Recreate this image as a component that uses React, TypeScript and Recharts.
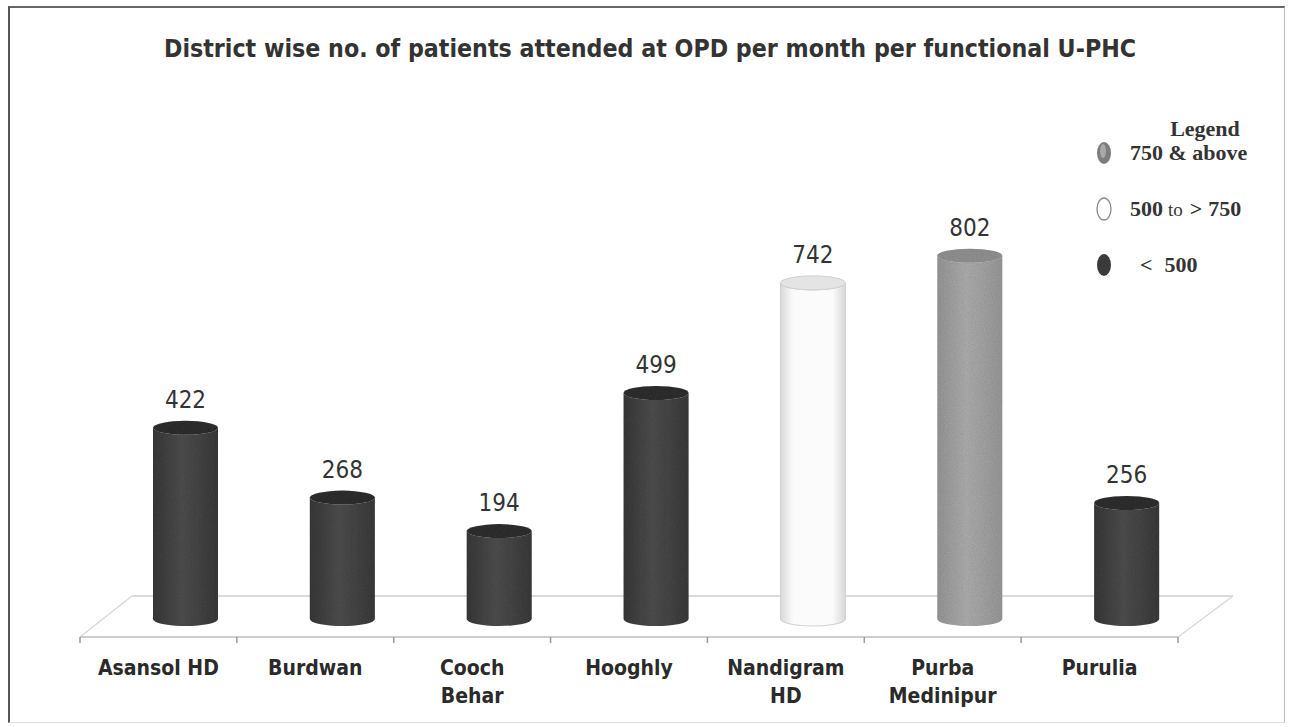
import React from 'react';
import { BarChart, Bar, XAxis, YAxis, ReferenceLine, LabelList, Legend } from 'recharts';

const categories = ['Asansol HD', 'Burdwan', 'Cooch Behar', 'Hooghly', 'Nandigram HD', 'Purba Medinipur', 'Purulia'];
const tickLines = [['Asansol HD'], ['Burdwan'], ['Cooch', 'Behar'], ['Hooghly'], ['Nandigram', 'HD'], ['Purba', 'Medinipur'], ['Purulia']];
const values = [422, 268, 194, 499, 742, 802, 256];
const yDomain = [0, 1000];
const title = 'District wise no. of patients attended at OPD per month per functional U-PHC';
const legendTitle = 'Legend';
const legendItems = [
  { tier: 'high', parts: [{ t: '750 & above', b: true, dx: 0 }] },
  { tier: 'mid', parts: [{ t: '500', b: true, dx: 0 }, { t: 'to', b: false, dx: 5 }, { t: '>', b: true, dx: 7 }, { t: '750', b: true, dx: 6 }] },
  { tier: 'low', parts: [{ t: '<', b: true, dx: 10 }, { t: '500', b: true, dx: 12 }] },
];
const thresholds = { high: 750, mid: 500 };

const data = categories.map((name, i) => ({ name, value: values[i] }));

const tierOf = (v: number) => (v >= thresholds.high ? 'high' : v >= thresholds.mid ? 'mid' : 'low');

const STYLE: Record<string, { side: string; top: string; stroke: string; filter?: string }> = {
  high: { side: 'url(#gHigh)', top: '#959595', stroke: 'none', filter: 'url(#grain)' },
  mid: { side: 'url(#gMid)', top: '#e4e4e4', stroke: '#d0d0d0' },
  low: { side: 'url(#gLow)', top: '#333', stroke: 'none', filter: 'url(#grain)' },
};

const SANS = "'DejaVu Sans Condensed', 'DejaVu Sans', sans-serif";
const SERIF = "'Liberation Serif', 'DejaVu Serif', serif";
const FRONT_SHIFT = -27;

const Cylinder = (props: any) => {
  const { x, y, width, height, payload } = props;
  if (width == null || height == null) return null;
  const rx = width / 2;
  const ry = 7;
  const s = STYLE[tierOf(payload.value)];
  const d = `M ${x} ${y} L ${x} ${y + height} A ${rx} ${ry} 0 0 0 ${x + width} ${y + height} L ${x + width} ${y} A ${rx} ${ry} 0 0 1 ${x} ${y} Z`;
  return (
    <g filter={s.filter}>
      <path d={d} fill={s.side} stroke={s.stroke} strokeWidth={1} />
      <ellipse cx={x + rx} cy={y} rx={rx} ry={ry} fill={s.top} stroke={s.stroke} strokeWidth={1} />
    </g>
  );
};

const Floor = (props: any) => {
  const { x1, x2, y1 } = props;
  if (x1 == null) return null;
  const back = y1 - 23;
  const front = y1 + 18;
  const bl = x1 + 25;
  const br = x2 + 28;
  const fl = x1 + FRONT_SHIFT;
  const fr = x2 + FRONT_SHIFT;
  const n = categories.length;
  const step = (fr - fl) / n;
  const ticks = Array.from({ length: n + 1 }, (_, i) => fl + i * step);
  return (
    <g>
      <line x1={bl} y1={back} x2={br} y2={back} stroke="#cfcfcf" strokeWidth={1.5} />
      <line x1={fl} y1={front} x2={bl} y2={back} stroke="#d6d6d6" strokeWidth={1.2} />
      <line x1={fr} y1={front} x2={br} y2={back} stroke="#d6d6d6" strokeWidth={1.2} />
      <line x1={fl} y1={front} x2={fr} y2={front} stroke="#bdbdbd" strokeWidth={1.5} />
      {ticks.map((tx, i) => (
        <line key={i} x1={tx} y1={front} x2={tx} y2={front + 6} stroke="#9a9a9a" strokeWidth={1.5} />
      ))}
    </g>
  );
};

const AxisTick = (props: any) => {
  const { x, y, payload } = props;
  const idx = categories.indexOf(payload.value);
  const lines = tickLines[idx] ?? [payload.value];
  const cx = x + FRONT_SHIFT;
  return (
    <text x={cx} y={y + 56} textAnchor="middle" fontFamily={SANS} fontWeight="bold" fontSize={21} fill="#2a2a2a">
      {lines.map((l, i) => (
        <tspan key={i} x={cx} dy={i === 0 ? 0 : 28}>
          {l}
        </tspan>
      ))}
    </text>
  );
};

const ValueLabel = (props: any) => {
  const { x, y, width, value } = props;
  return (
    <text x={x + width / 2} y={y - 20} textAnchor="middle" fontFamily={SANS} fontSize={24} fill="#333">
      {value}
    </text>
  );
};

const LegendIcon = ({ tier, cx, cy }: { tier: string; cx: number; cy: number }) => {
  if (tier === 'high')
    return (
      <g>
        <ellipse cx={cx} cy={cy} rx={7} ry={11} fill="#7d7d7d" />
        <ellipse cx={cx - 1} cy={cy - 2} rx={3} ry={7} fill="#a8a8a8" />
      </g>
    );
  if (tier === 'mid') return <ellipse cx={cx} cy={cy} rx={7} ry={11} fill="#fff" stroke="#8a8a8a" strokeWidth={1.3} />;
  return <ellipse cx={cx} cy={cy} rx={7} ry={11} fill="#3a3a3a" />;
};

const LegendContent = () => (
  <svg width={200} height={180}>
    <text x={120} y={26} textAnchor="middle" fontFamily={SERIF} fontWeight="bold" fontSize={22} fill="#333">
      {legendTitle}
    </text>
    {legendItems.map((it, i) => {
      const cy = 43 + i * 56;
      return (
        <g key={i}>
          <LegendIcon tier={it.tier} cx={19} cy={cy} />
          <text x={45} y={cy + 7} fontFamily={SERIF} fontSize={22} fill="#333">
            {it.parts.map((p, j) => (
              <tspan key={j} dx={p.dx} fontWeight={p.b ? 'bold' : 'normal'} fontSize={p.b ? 22 : 19}>
                {p.t}
              </tspan>
            ))}
          </text>
        </g>
      );
    })}
  </svg>
);

export default function App() {
  return (
    <div style={{ position: 'absolute', left: 0, top: 0, width: 1291, height: 727, background: '#fff' }}>
      <div
        style={{
          position: 'absolute',
          left: 8,
          top: 6,
          width: 1274,
          height: 714,
          borderTop: '2px solid #666',
          borderLeft: '2px solid #555',
          borderRight: '1px solid #bbb',
          borderBottom: '1px solid #ddd',
        }}
      />
      <svg width={1291} height={80} style={{ position: 'absolute', left: 0, top: 0 }}>
        <text x={650} y={57} textAnchor="middle" fontFamily={SANS} fontWeight="bold" fontSize={24.7} fill="#333">
          {title}
        </text>
      </svg>
      <div style={{ position: 'absolute', left: 0, top: 0 }}>
        <BarChart width={1291} height={727} data={data} margin={{ top: 166, right: 86, bottom: 48, left: 107 }}>
          <defs>
            <linearGradient id="gLow" x1="0" y1="0" x2="1" y2="0">
              <stop offset="0" stopColor="#3a3a3a" />
              <stop offset="0.45" stopColor="#515151" />
              <stop offset="1" stopColor="#3c3c3c" />
            </linearGradient>
            <linearGradient id="gHigh" x1="0" y1="0" x2="1" y2="0">
              <stop offset="0" stopColor="#9a9a9a" />
              <stop offset="0.45" stopColor="#b2b2b2" />
              <stop offset="1" stopColor="#9c9c9c" />
            </linearGradient>
            <linearGradient id="gMid" x1="0" y1="0" x2="1" y2="0">
              <stop offset="0" stopColor="#d8d8d8" />
              <stop offset="0.2" stopColor="#fbfbfb" />
              <stop offset="0.8" stopColor="#fbfbfb" />
              <stop offset="1" stopColor="#d8d8d8" />
            </linearGradient>
            <filter id="grain" x="0" y="0" width="100%" height="100%">
              <feTurbulence type="fractalNoise" baseFrequency="1.1" numOctaves="1" seed="4" result="noise" />
              <feColorMatrix in="noise" type="matrix" values="0 0 0 0 0  0 0 0 0 0  0 0 0 0 0  0 0 0 0.3 0" result="speck" />
              <feComposite in="speck" in2="SourceGraphic" operator="in" result="speckIn" />
              <feMerge>
                <feMergeNode in="SourceGraphic" />
                <feMergeNode in="speckIn" />
              </feMerge>
            </filter>
          </defs>
          <XAxis dataKey="name" height={60} axisLine={false} tickLine={false} tickSize={0} tickMargin={0} interval={0} tick={<AxisTick />} />
          <YAxis hide domain={yDomain} />
          <ReferenceLine y={0} shape={<Floor />} zIndex={-1} />
          <Bar dataKey="value" barSize={65} shape={<Cylinder />} isAnimationActive={false}>
            <LabelList dataKey="value" content={<ValueLabel />} />
          </Bar>
          <Legend
            layout="horizontal"
            verticalAlign="middle"
            align="center"
            wrapperStyle={{ position: 'absolute', left: 1085, top: 110, width: 200, height: 180 }}
            content={<LegendContent />}
          />
        </BarChart>
      </div>
    </div>
  );
}
